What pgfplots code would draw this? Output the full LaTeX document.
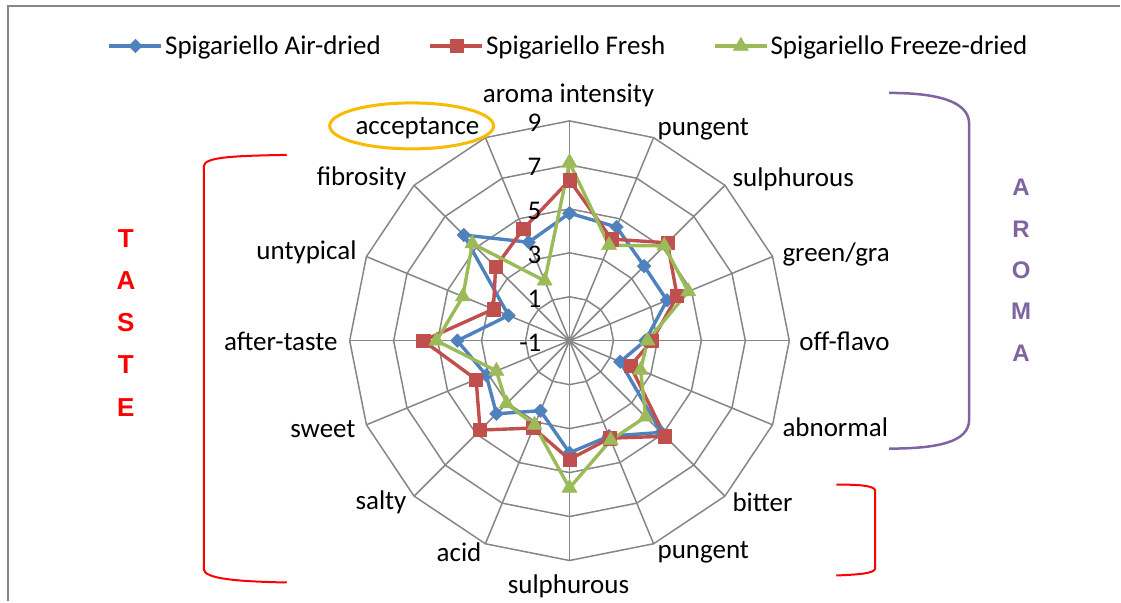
\documentclass[border=0pt]{standalone}
\usepackage{pgfplots}
\pgfplotsset{compat=1.18}
\usepackage{pgfplotstable}
\usepackage{fontspec}
\setmainfont{Carlito}
\newfontfamily\arial{Liberation Sans}

\definecolor{airc}{RGB}{79,129,189}
\definecolor{freshc}{RGB}{192,80,77}
\definecolor{freezec}{RGB}{155,187,89}
\definecolor{gridc}{RGB}{134,134,134}
\definecolor{ringc}{RGB}{250,186,0}
\definecolor{aromac}{RGB}{128,100,162}

% a = angle of the spoke (clockwise from top), last row closes the polygon
\pgfplotstableread{
a     air   fresh freeze
0     4.80  6.30  7.10
22.5  4.60  4.00  3.70
45    3.80  5.30  5.10
67.5  3.80  4.30  4.85
90    2.45  2.75  2.55
112.5 1.50  2.00  2.50
135   4.90  5.15  3.90
157.5 3.70  3.80  3.90
180   4.10  4.40  5.70
202.5 2.45  3.30  3.15
225   3.70  4.75  3.05
247.5 3.10  3.60  2.60
270   4.10  5.65  5.05
292.5 2.00  2.75  4.25
315   5.80  3.75  5.25
337.5 3.85  4.50  1.95
360   4.80  6.30  7.10
}\sensory

\begin{document}
\begin{tikzpicture}[font=\fontsize{27}{32}\selectfont]
\begin{axis}[
  at={(570pt,-341pt)}, anchor=origin,
  x=22pt, y=22pt,
  xmin=-11, xmax=11, ymin=-11, ymax=11,
  hide axis, clip=false,
  legend style={at={(0.498,1.1095)}, anchor=center, draw=none, fill=none,
    legend columns=3, font=\fontsize{27}{32}\selectfont,
    /tikz/every even column/.append style={column sep=46pt}},
  legend cell align=left,
  legend image code/.code={\draw[mark repeat=2,mark phase=2] plot coordinates {(0pt,0pt) (26pt,0pt) (52pt,0pt)};},
]
% web
\pgfplotsinvokeforeach{2,4,6,8,10}{
  \draw[gridc, line width=1.5pt] (axis cs:0,#1) \foreach \k in {1,...,15}{ -- (axis cs:{#1*sin(22.5*\k)},{#1*cos(22.5*\k)}) } -- cycle;
}
\pgfplotsinvokeforeach{0,...,15}{
  \draw[gridc, line width=1.5pt] (axis cs:0,0) -- (axis cs:{10*sin(22.5*#1)},{10*cos(22.5*#1)});
}

\addplot[airc, line width=3.4pt, line join=round, mark=square*, mark size=4.8pt,
  mark options={rotate=45, line width=0.5pt}]
  table[x expr={(\thisrow{air}+1)*sin(\thisrow{a})}, y expr={(\thisrow{air}+1)*cos(\thisrow{a})}] {\sensory};
\addlegendentry{Spigariello Air-dried}
\addplot[freshc, line width=3.4pt, line join=round, mark=square*, mark size=6.6pt,
  mark options={line width=0.5pt}]
  table[x expr={(\thisrow{fresh}+1)*sin(\thisrow{a})}, y expr={(\thisrow{fresh}+1)*cos(\thisrow{a})}] {\sensory};
\addlegendentry{Spigariello Fresh}
\addplot[freezec, line width=3.4pt, line join=round, mark=triangle*, mark size=8.7pt,
  mark options={line width=0.5pt}]
  table[x expr={(\thisrow{freeze}+1)*sin(\thisrow{a})}, y expr={(\thisrow{freeze}+1)*cos(\thisrow{a})}] {\sensory};
\addlegendentry{Spigariello Freeze-dried}
\end{axis}

\begin{scope}[x=1pt, y=-1pt, every node/.style={inner sep=0pt}]
\path (0,0) rectangle (1121,602);
\draw[gridc, line width=2pt] (8,602) -- (8,6) -- (1121,6);

% radial values
\node[anchor=east] at (542,123) {9};
\node[anchor=east] at (542,167) {7};
\node[anchor=east] at (542,211) {5};
\node[anchor=east] at (542,255) {3};
\node[anchor=east] at (542,299) {1};
\node[anchor=east] at (542,343) {-1};

% categories
\node at (569,95) {aroma intensity};
\node[anchor=west] at (658,129) {pungent};
\node[anchor=west] at (733,179) {sulphurous};
\node[anchor=west] at (783,255) {green/gra};
\node[anchor=west] at (800,342) {off-flavo};
\node[anchor=west] at (783,428) {abnormal};
\node[anchor=west] at (733,503) {bitter};
\node[anchor=west] at (658,553) {pungent};
\node at (569,587) {sulphurous};
\node[anchor=east] at (482,553) {acid};
\node[anchor=east] at (407,503) {salty};
\node[anchor=east] at (356,429) {sweet};
\node[anchor=east] at (338,342) {after-taste};
\node[anchor=east] at (357,253) {untypical};
\node[anchor=east] at (407,178) {fibrosity};
\node[anchor=east] at (480,128) {acceptance};

% annotations
\draw[ringc, line width=3pt] (412,126) ellipse [x radius=82, y radius=23];
\draw[red, line width=2pt] (287,155) .. controls (235,156) and (205,157) .. (204,166)
  -- (204,570) .. controls (205,579) and (235,582) .. (287,583);
\draw[red, line width=2pt] (837,485) .. controls (860,485) and (875,486) .. (876,491)
  -- (876,569) .. controls (875,574) and (860,575) .. (837,576);
\draw[aromac, line width=2.5pt] (890,93) .. controls (940,93) and (970,102) .. (970,124)
  -- (970,420) .. controls (970,442) and (940,449) .. (890,449);

\foreach \c/\y in {T/239, A/281, S/323, T/365, E/408}
  \node[text=red, font=\arial\bfseries\fontsize{26}{30}\selectfont] at (126,\y) {\c};
\foreach \c/\y in {A/187, R/229, O/270, M/312, A/354}
  \node[text=aromac, font=\arial\bfseries\fontsize{24}{28}\selectfont] at (1022,\y) {\c};
\end{scope}
\end{tikzpicture}
\end{document}
